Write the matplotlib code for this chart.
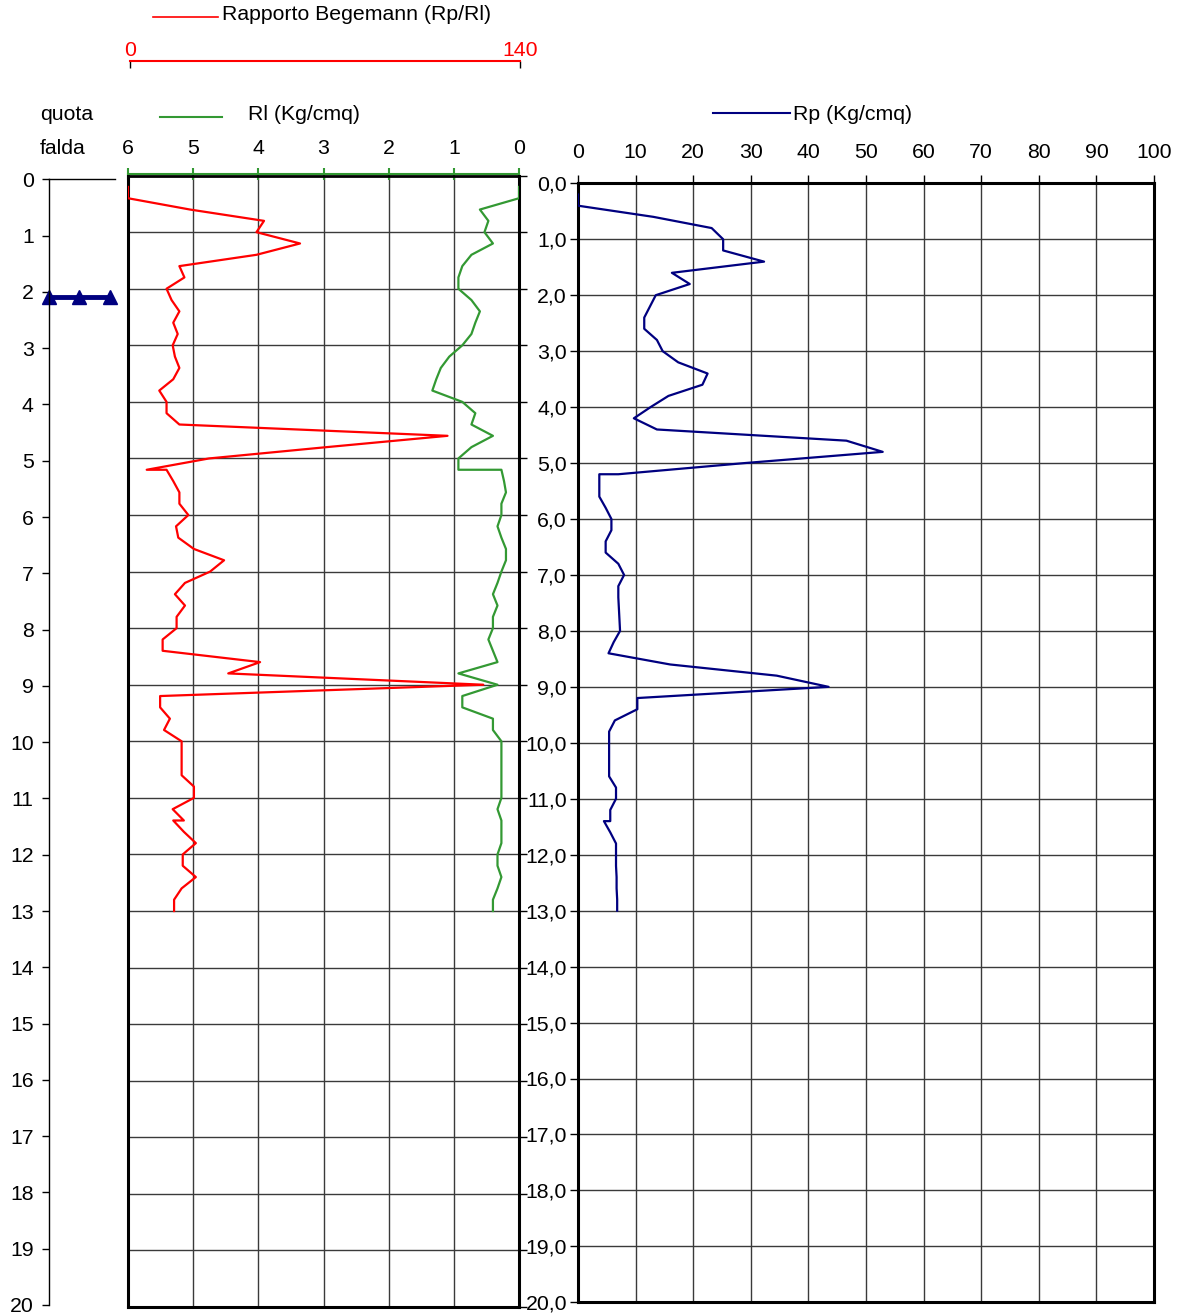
import numpy as np
import matplotlib
matplotlib.use("Agg")
import matplotlib.pyplot as plt
from matplotlib.lines import Line2D

plt.rcParams['font.family'] = ['Liberation Sans', 'DejaVu Sans']

# penetrometer readings, every 0.2 m (5.2 and 11.4 appear twice: rod change)
depth = [0.2, 0.4, 0.6, 0.8, 1.0, 1.2, 1.4, 1.6, 1.8, 2.0, 2.2, 2.4, 2.6, 2.8, 3.0,
         3.2, 3.4, 3.6, 3.8, 4.0, 4.2, 4.4, 4.6, 4.8, 5.0, 5.2, 5.2, 5.4, 5.6, 5.8,
         6.0, 6.2, 6.4, 6.6, 6.8, 7.0, 7.2, 7.4, 7.6, 7.8, 8.0, 8.2, 8.4, 8.6, 8.8,
         9.0, 9.2, 9.4, 9.6, 9.8, 10.0, 10.2, 10.4, 10.6, 10.8, 11.0, 11.2, 11.4,
         11.4, 11.6, 11.8, 12.0, 12.2, 12.4, 12.6, 12.8, 13.0]

rp = [0, 0, 13.1, 23.2, 25.2, 25.2, 32.3, 16.3, 19.4, 13.5, 12.5, 11.5, 11.5, 13.7, 14.7,
      17.4, 22.5, 21.6, 15.7, 12.6, 9.7, 13.7, 46.6, 52.9, 29.0, 7.0, 3.7, 3.7, 3.7, 4.8,
      5.8, 5.8, 4.8, 4.8, 7.0, 8.0, 7.0, 7.0, 7.1, 7.2, 7.3, 6.2, 5.3, 16.0, 34.5,
      43.5, 10.3, 10.3, 6.4, 5.4, 5.4, 5.4, 5.4, 5.4, 6.6, 6.6, 5.6, 5.6,
      4.5, 5.6, 6.6, 6.6, 6.6, 6.7, 6.7, 6.8, 6.8]

rl = [0, 0, 0.60, 0.47, 0.53, 0.40, 0.73, 0.87, 0.93, 0.93, 0.73, 0.60, 0.67, 0.73, 0.87,
      1.07, 1.20, 1.27, 1.33, 0.87, 0.67, 0.73, 0.40, 0.73, 0.93, 0.93, 0.27, 0.23, 0.20, 0.27,
      0.27, 0.33, 0.27, 0.20, 0.20, 0.27, 0.33, 0.40, 0.33, 0.40, 0.40, 0.47, 0.40, 0.33, 0.93,
      0.33, 0.87, 0.87, 0.40, 0.40, 0.27, 0.27, 0.27, 0.27, 0.27, 0.27, 0.33, 0.27,
      0.27, 0.27, 0.27, 0.33, 0.33, 0.27, 0.33, 0.40, 0.40]

begemann = [0, 0, 22.2, 48.7, 46.0, 61.6, 46.0, 18.4, 20.2, 13.8, 15.6, 18.4, 16.2, 17.8, 16.0,
            16.8, 18.4, 16.2, 11.2, 13.8, 13.8, 18.4, 114.4, 71.1, 29.0, 6.7, 13.8, 16.2, 18.4, 18.4,
            21.6, 17.2, 18.0, 23.6, 34.4, 29.4, 20.4, 16.8, 20.4, 17.4, 17.4, 12.4, 12.4, 47.3, 35.9,
            127.2, 11.5, 11.5, 15.0, 12.9, 19.2, 19.2, 19.2, 19.2, 23.6, 23.6, 16.0, 20.0,
            16.2, 20.0, 24.3, 19.6, 19.6, 24.3, 19.2, 16.5, 16.5]

falda_depth = 2.1  # water table

W, H = 1179, 1315
red = '#ff0000'
green = '#339933'
navy = '#000080'
grid_c = '#3a3a3a'
fs = 15.3

fig = plt.figure(figsize=(W / 100, H / 100), dpi=100)


def box(x0, y0, x1, y1):
    # pixel box (top-left origin) -> figure fraction
    return [x0 / W, 1 - y1 / H, (x1 - x0) / W, (y1 - y0) / H]


def fx(px):
    return px / W


def fy(py):
    return 1 - py / H


# depth axis "quota falda"
ax_q = fig.add_axes(box(49, 179.3, 115, 1305))
ax_q.set_xlim(0, 1)
ax_q.set_ylim(20, 0)
ax_q.set_xticks([])
ax_q.set_yticks(range(21))
ax_q.tick_params(axis='y', direction='out', length=5, width=1, labelsize=fs, pad=6)
for s in ['right', 'bottom']:
    ax_q.spines[s].set_visible(False)
ax_q.spines['left'].set_linewidth(1)
ax_q.spines['top'].set_linewidth(1)
ax_q.plot([0.0, 0.46, 0.92], [falda_depth] * 3, color=navy, lw=3.5,
          marker='^', ms=10, clip_on=False)

# left panel: Rl and Rp/Rl
ax_l = fig.add_axes(box(128, 175.6, 519, 1307))
ax_b = ax_l.twiny()
ax_l.set_xlim(6, 0)
ax_l.set_ylim(20, 0)
for v in range(1, 6):
    ax_l.axvline(v, color=grid_c, lw=1, zorder=1)
for d in range(1, 20):
    ax_l.axhline(d, color=grid_c, lw=1, zorder=1)
ax_l.set_xticks(range(7))
ax_l.tick_params(axis='x', which='both', bottom=False, labelbottom=False,
                 top=True, labeltop=True, direction='inout', length=8, width=1.5,
                 color=green, labelsize=fs, pad=7)
ax_l.set_yticks(range(21))
ax_l.tick_params(axis='y', left=False, labelleft=False, right=True, labelright=False,
                 direction='out', length=6, width=1)
for s in ax_l.spines.values():
    s.set_linewidth(2.2)
ax_l.spines['top'].set_color(green)
ax_l.spines['top'].set_linewidth(1.5)
ax_l.spines['top'].set_position(('outward', 1.5))
ax_l.axhline(0, color='black', lw=2, clip_on=False, zorder=3)
ax_l.plot(rl, depth, color=green, lw=1.6, zorder=4)

ax_b.set_xlim(0, 140)
ax_b.set_ylim(20, 0)
ax_b.axis('off')
ax_b.plot(begemann, depth, color=red, lw=1.6, zorder=5)

# Begemann ratio scale bar
ax_s = fig.add_axes(box(130, 61, 520, 66))
ax_s.set_xlim(0, 140)
ax_s.set_yticks([])
for s in ['left', 'right', 'bottom']:
    ax_s.spines[s].set_visible(False)
ax_s.spines['top'].set_color(red)
ax_s.spines['top'].set_linewidth(1.5)
ax_s.xaxis.tick_top()
ax_s.set_xticks([0, 140])
ax_s.tick_params(axis='x', direction='in', length=5, width=1, color='black',
                 labelcolor=red, labelsize=fs, pad=0.5)

# right panel: Rp
ax_r = fig.add_axes(box(578, 183.3, 1154, 1302.3))
ax_r.set_xlim(0, 100)
ax_r.set_ylim(20, 0)
for v in range(10, 100, 10):
    ax_r.axvline(v, color=grid_c, lw=1, zorder=1)
for d in range(1, 20):
    ax_r.axhline(d, color=grid_c, lw=1, zorder=1)
ax_r.xaxis.tick_top()
ax_r.set_xticks(range(0, 101, 10))
ax_r.tick_params(axis='x', direction='out', length=6, width=1, labelsize=fs, pad=9)
ax_r.set_yticks(range(21))
ax_r.set_yticklabels([f"{d:.1f}".replace('.', ',') for d in range(21)])
ax_r.tick_params(axis='y', direction='out', length=6, width=1, labelsize=fs, pad=2)
for s in ax_r.spines.values():
    s.set_linewidth(2.2)
ax_r.plot(rp, depth, color=navy, lw=1.6, zorder=4)

# legend lines and texts
fig.add_artist(Line2D([fx(153), fx(218)], [fy(17), fy(17)], color=red, lw=1.2))
fig.text(fx(222), fy(15), 'Rapporto Begemann (Rp/Rl)', fontsize=fs, va='center')
fig.add_artist(Line2D([fx(160), fx(222)], [fy(117), fy(117)], color=green, lw=1.5))
fig.text(fx(248), fy(115), 'Rl (Kg/cmq)', fontsize=fs, va='center')
fig.add_artist(Line2D([fx(713), fx(790)], [fy(113), fy(113)], color=navy, lw=1.5))
fig.text(fx(793), fy(115), 'Rp (Kg/cmq)', fontsize=fs, va='center')
fig.text(fx(40), fy(115), 'quota', fontsize=fs, va='center')
fig.text(fx(40), fy(148), 'falda', fontsize=fs, va='center')

fig.savefig('out.png', dpi=100)
